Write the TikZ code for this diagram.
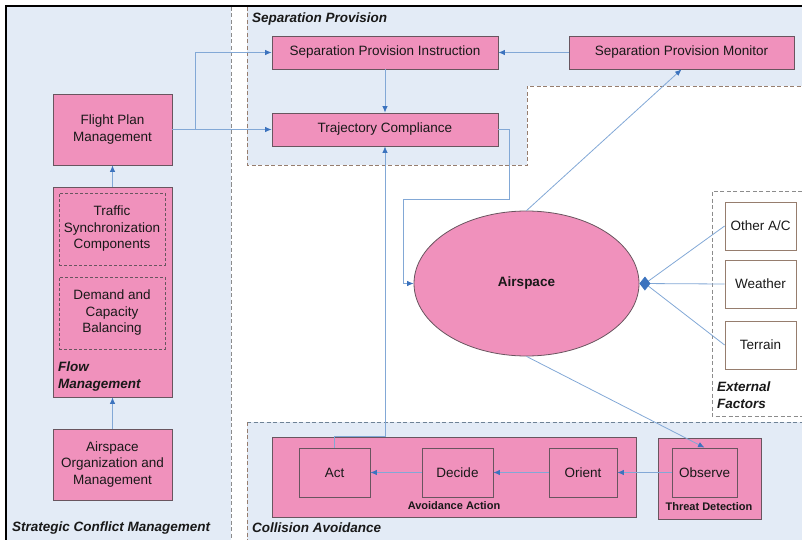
\documentclass[tikz,border=0pt]{standalone}
\usepackage{fontspec}
\setmainfont{Liberation Sans}
\usetikzlibrary{arrows.meta,shapes.geometric}
\definecolor{pinkf}{RGB}{240,145,188}
\definecolor{bord}{RGB}{105,85,95}
\definecolor{lblue}{RGB}{227,235,246}
\definecolor{lnc}{RGB}{130,168,214}
\definecolor{tipc}{RGB}{60,115,190}
\definecolor{dashg}{RGB}{140,140,140}
\definecolor{dashb}{RGB}{150,125,110}
\definecolor{dashbl}{RGB}{110,130,150}
\definecolor{txt}{RGB}{25,25,25}
\newcommand\myfs{\fontsize{13.5}{16.5}\selectfont}
\newcommand\mysm{\fontsize{11}{13}\selectfont}
\begin{document}
\begin{tikzpicture}[x=1pt,y=-1pt,
  box/.style={draw=bord, fill=pinkf, line width=0.8pt, inner sep=0pt, align=center, text=txt, font=\myfs},
  dbox/.style={draw=bord, line width=0.7pt, dash pattern=on 3pt off 2pt, inner sep=0pt, align=center, text=txt, font=\myfs},
  wbox/.style={draw=dashb, fill=white, line width=0.8pt, inner sep=0pt, align=center, text=txt, font=\myfs},
  arr/.style={draw=lnc, line width=0.8pt, -{Latex[length=6.5pt,width=5.5pt,color=tipc]}},
  ln/.style={draw=lnc, line width=0.8pt},
  reg/.style={line width=0.8pt, dash pattern=on 4pt off 2.5pt},
  ttl/.style={font=\myfs\bfseries\itshape, text=txt, inner sep=0pt, anchor=west, align=left},
  sub/.style={font=\mysm\bfseries, text=txt, inner sep=0pt}]
\useasboundingbox (0,0) rectangle (802,540);
% regions
\fill[lblue] (7,7) rectangle (231,540);
\draw[reg, draw=dashg] (231,7) -- (231,540);
\fill[lblue] (247,7) -- (802,7) -- (802,86) -- (527,86) -- (527,165) -- (247,165) -- cycle;
\draw[reg, draw=dashb] (247,7) -- (247,165) -- (527,165) -- (527,86) -- (802,86);
\fill[lblue] (247,422) rectangle (802,540);
\draw[reg, draw=dashbl] (247,422) -- (802,422);
\draw[reg, draw=dashb] (247,422) -- (247,540);
\draw[reg, draw=dashg, fill=white] (802,191) -- (712,191) -- (712,416) -- (802,416);
\draw[line width=2pt, black] (6,541) -- (6,6) -- (803,6);
% titles
\node[ttl] (tsp) at (252,19) {Separation Provision};
\node[ttl] (tscm) at (12,528) {Strategic Conflict Management};
\node[ttl] (tca) at (252,528) {Collision Avoidance};
\node[ttl] (tef) at (717,395) {External\\Factors};
% boxes
\node[box, minimum width=226pt, minimum height=33pt] (spi) at (385,52.5) {Separation Provision Instruction};
\node[box, minimum width=225pt, minimum height=33pt] (spm) at (681.5,52.5) {Separation Provision Monitor};
\node[box, minimum width=226pt, minimum height=33pt] (tc) at (385,129.5) {Trajectory Compliance};
\node[box, minimum width=119pt, minimum height=71pt] (fpm) at (112.5,129.5) {Flight Plan\\Management};
\node[box, minimum width=119pt, minimum height=210pt] (flow) at (112.5,292) {};
\node[dbox, minimum width=106pt, minimum height=72pt] (ts) at (112,229) {Traffic\\Synchronization\\Components};
\node[dbox, minimum width=106pt, minimum height=72pt] (dcb) at (112,313) {Demand and\\Capacity\\Balancing};
\node[ttl] (tfm) at (58,376.5) {Flow\\Management};
\node[box, minimum width=119pt, minimum height=71pt] (aom) at (112.5,464.5) {Airspace\\Organization and\\Management};
\node[box, ellipse, minimum width=225pt, minimum height=145pt, font=\myfs\bfseries] (air) at (526.5,283.5) {Airspace};
\node[wbox, minimum width=71pt, minimum height=48pt] (oac) at (760.5,226) {Other A/C};
\node[wbox, minimum width=71pt, minimum height=48pt] (wea) at (760.5,284) {Weather};
\node[wbox, minimum width=71pt, minimum height=48pt] (ter) at (760.5,345) {Terrain};
\node[box, minimum width=364pt, minimum height=80pt] (aa) at (454,477) {};
\node[box, minimum width=71pt, minimum height=49pt] (act) at (334.5,472.5) {Act};
\node[box, minimum width=71pt, minimum height=49pt] (dec) at (457.5,472.5) {Decide};
\node[box, minimum width=68pt, minimum height=49pt] (ori) at (583,472.5) {Orient};
\node[sub] (taa) at (454,506) {Avoidance Action};
\node[box, minimum width=103pt, minimum height=81pt] (td) at (709.5,478.5) {};
\node[box, minimum width=65pt, minimum height=49pt] (obs) at (704.5,472.5) {Observe};
\node[sub] (ttd) at (709,507) {Threat Detection};
% connectors
\coordinate (j1) at (195,129.5);
\draw[arr] (fpm.east) -- (tc.west);
\draw[arr] (j1) |- (spi.west);
\draw[arr] (spm.west) -- (spi.east);
\draw[arr] (spi.south) -- (tc.north);
\draw[arr] (act.north) -- (act.north |- aa.north) -- (tc.south |- aa.north) -- (tc.south);
\coordinate (t1) at (509,199);
\coordinate (t2) at (403,199);
\draw[arr] (tc.east) -| (t1) -- (t2) |- (air.west);
\draw[arr] (air.north) -- (spm.south);
\draw[arr] (air.south) -- (obs.north);
\coordinate (dm) at (645,283.5);
\draw[ln] (oac.west) -- (dm);
\draw[ln] (ter.west) -- (dm);
\draw[draw=lnc, line width=0.8pt, -{Diamond[length=11pt,width=14pt,color=tipc]}] (wea.west) -- (air.east);
\draw[arr] (flow.north) -- (fpm.south);
\draw[arr] (aom.north) -- (flow.south);
\draw[arr] (obs.west) -- (ori.east);
\draw[arr] (ori.west) -- (dec.east);
\draw[arr] (dec.west) -- (act.east);
\end{tikzpicture}
\end{document}
